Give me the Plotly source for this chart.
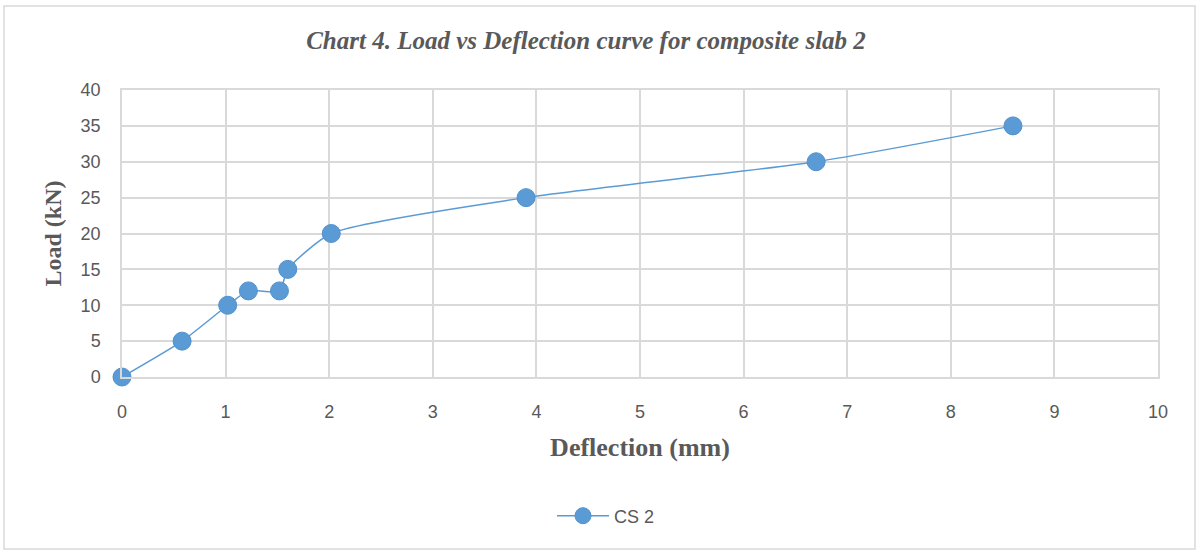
import plotly.graph_objects as go

deflection = [0, 0.58, 1.02, 1.22, 1.52, 1.6, 2.02, 3.9, 6.7, 8.6]
load = [0, 5, 10, 12, 12, 15, 20, 25, 30, 35]
series_name = "CS 2"
title_text = "Chart 4. Load vs Deflection curve for composite slab 2"
x_title = "Deflection (mm)"
y_title = "Load (kN)"

W, H = 1198, 551
L, R, T, B = 122, 40, 90, 174
pw, ph = W - L - R, H - T - B

def px(x):
    return (x - L) / pw

def py(y):
    return (H - B - y) / ph

color = "#5B9BD5"
fig = go.Figure()
fig.add_trace(go.Scatter(
    x=deflection, y=load, name=series_name, mode="lines+markers", cliponaxis=False,
    line=dict(color=color, width=1.5, shape="spline", smoothing=0.6),
    marker=dict(size=18, color=color, line=dict(color="#5190CC", width=1)),
))

fig.update_layout(
    width=W, height=H,
    margin=dict(l=L, r=R, t=T, b=B),
    paper_bgcolor="white", plot_bgcolor="white",
    title=dict(text="<b><i>" + title_text + "</i></b>", xref="container", x=586 / W,
               xanchor="center", y=1 - 40 / H, yanchor="middle",
               font=dict(family="Liberation Serif", size=25, color="#595959")),
    xaxis=dict(range=[0, 10], dtick=1, showgrid=True, gridcolor="#D9D9D9", gridwidth=1.5,
               zeroline=False, showline=True, linecolor="#D9D9D9", linewidth=1.5, mirror=True,
               ticks="", ticklabelstandoff=18,
               tickfont=dict(family="Liberation Sans", size=18, color="#595959"),
               title=dict(text="<b>" + x_title + "</b>", standoff=16,
                          font=dict(family="Liberation Serif", size=26, color="#595959"))),
    yaxis=dict(range=[0, 40], dtick=5, showgrid=True, gridcolor="#D9D9D9", gridwidth=1.5,
               zeroline=False, showline=True, linecolor="#D9D9D9", linewidth=1.5, mirror=True,
               ticks="", ticklabelstandoff=16,
               tickfont=dict(family="Liberation Sans", size=18, color="#595959"),
               title=dict(text="<b>" + y_title + "</b>", standoff=12,
                          font=dict(family="Liberation Serif", size=24, color="#595959"))),
    showlegend=True,
    legend=dict(orientation="h", x=px(606), xanchor="center", y=py(516), yanchor="middle",
                itemwidth=52,
                font=dict(family="Liberation Sans", size=18, color="#595959")),
    shapes=[dict(type="rect", xref="paper", yref="paper",
                 x0=px(4), x1=px(1195), y0=py(549), y1=py(6),
                 line=dict(color="#D9D9D9", width=1.5), fillcolor="rgba(0,0,0,0)")],
)

fig.write_html("out.html", config={"displayModeBar": False},
               post_script="document.body.style.margin='0px';")
